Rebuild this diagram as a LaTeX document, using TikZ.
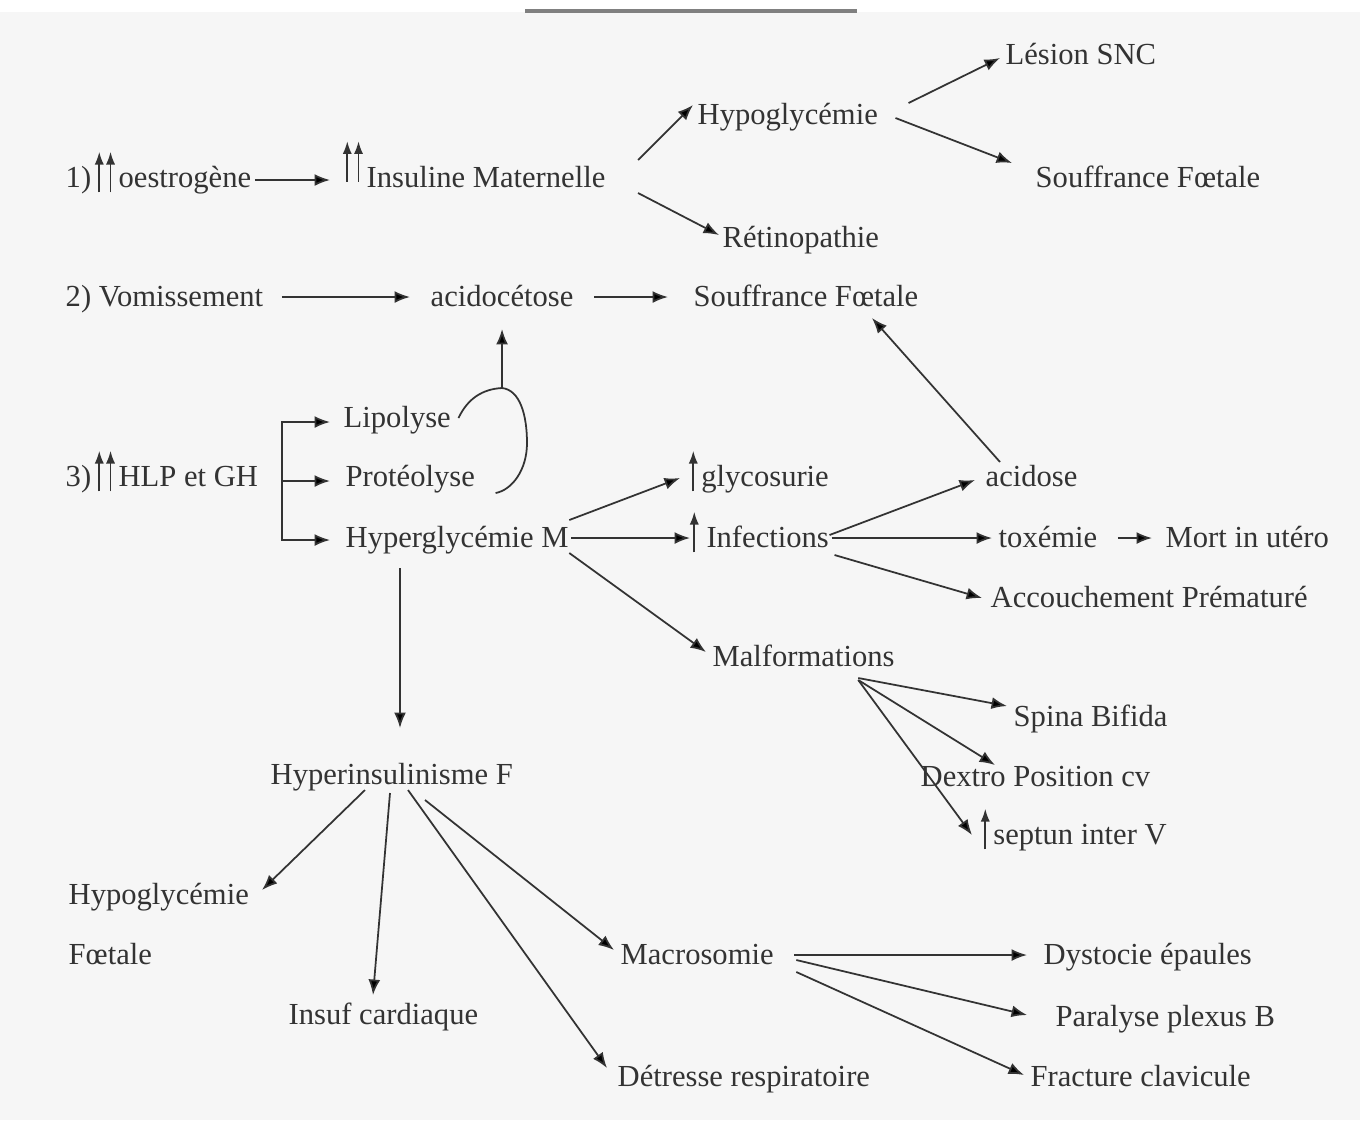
\documentclass[tikz,border=0pt]{standalone}
\usepackage{fontspec}
\setmainfont{Liberation Serif}
\usetikzlibrary{arrows.meta, calc}

\definecolor{ink}{HTML}{333333}
\definecolor{paper}{HTML}{F6F6F6}

% small rising arrows used inside the labels
\newcommand{\upa}{\tikz[baseline=0pt]\draw[ink, line width=0.45pt, -{Latex[length=3.6pt,width=2.6pt]}] (0pt,-1.5pt) -- (0pt,10pt);}
\newcommand{\upupa}{\upa\kern0.6pt\upa}

\begin{document}
\begin{tikzpicture}[x=0.01cm, y=-0.01cm,
    lbl/.style={anchor=base west, inner sep=0pt, text=ink, font=\fontsize{8.7}{11}\selectfont},
    arr/.style={draw=ink, line width=0.5pt, -{Latex[length=4.4pt, width=3.4pt]}},
    ln/.style={draw=ink, line width=0.5pt}]
  \useasboundingbox (0,0) rectangle (1360,1120);
  \fill[white] (0,0) rectangle (1360,1120);
  \fill[paper] (0,12) rectangle (1360,1120);
  \draw[gray, line width=1pt] (525,11) -- (857,11);

  % 1) oestrogenes
  \node[lbl] (oest) at (65,187) {1)\kern1pt\upupa\kern1pt oestrogène};
  \node[lbl] (insm) at (342,187) {\raisebox{3pt}{\upupa}\kern1pt Insuline Maternelle};
  \node[lbl] (hypo) at (697,124) {Hypoglycémie};
  \node[lbl] (snc) at (1005,64) {Lésion SNC};
  \node[lbl] (sfa) at (1035,187) {Souffrance Fœtale};
  \node[lbl] (reti) at (722,247) {Rétinopathie};
  % 2) vomissement
  \node[lbl] (vomi) at (65,306) {2) Vomissement};
  \node[lbl] (acet) at (430,306) {acidocétose};
  \node[lbl] (sfb) at (693,306) {Souffrance Fœtale};
  % 3) HLP et GH
  \node[lbl] (hlp) at (65,486) {3)\kern1pt\upupa\kern1pt HLP et GH};
  \node[lbl] (lipo) at (343,427) {Lipolyse};
  \node[lbl] (prot) at (345,486) {Protéolyse};
  \node[lbl] (hgm) at (345,547) {Hyperglycémie M};
  \node[lbl] (glyc) at (688,486) {\upa\kern1pt glycosurie};
  \node[lbl] (infe) at (689,547) {\upa\ Infections};
  \node[lbl] (malf) at (712,666) {Malformations};
  \node[lbl] (acid) at (985,486) {acidose};
  \node[lbl] (toxe) at (998,547) {toxémie};
  \node[lbl] (mort) at (1165,547) {Mort in utéro};
  \node[lbl] (accp) at (990,607) {Accouchement Prématuré};
  \node[lbl] (spina) at (1013,726) {Spina Bifida};
  \node[lbl] (dext) at (920,786) {Dextro Position cv};
  \node[lbl] (sept) at (980,844) {\upa\kern1pt septun inter V};
  % foetus
  \node[lbl] (hinf) at (270,784) {Hyperinsulinisme F};
  \node[lbl, align=left] (hypf) at (68,964) {Hypoglycémie\\[6pt]Fœtale};
  \node[lbl] (insc) at (288,1024) {Insuf cardiaque};
  \node[lbl] (macr) at (620,964) {Macrosomie};
  \node[lbl] (detr) at (617,1086) {Détresse respiratoire};
  \node[lbl] (dyst) at (1043,964) {Dystocie épaules};
  \node[lbl] (para) at (1055,1026) {Paralyse plexus B};
  \node[lbl] (frac) at (1030,1086) {Fracture clavicule};

  % connectors, row 1
  \draw[arr] ([shift={(3,-7)}]oest.base east) -- ([shift={(-12,-7)}]insm.base west);
  \draw[arr] ([shift={(32,-27)}]insm.base east) -- ([shift={(-4,-19)}]hypo.base west);
  \draw[arr] ([shift={(32,6)}]insm.base east) -- ([shift={(-3,-12)}]reti.base west);
  \draw[arr] ([shift={(30,-21)}]hypo.base east) -- ([shift={(-5,-6)}]snc.base west);
  \draw[arr] ([shift={(17,-6)}]hypo.base east) -- ([shift={(-23,-24)}]sfa.base west);
  % row 2
  \draw[arr] ([shift={(18,-9)}]vomi.base east) -- ([shift={(-20,-9)}]acet.base west);
  \draw[arr] ([shift={(20,-9)}]acet.base east) -- ([shift={(-25,-9)}]sfb.base west);
  % lipolyse / proteolyse loop
  \coordinate (lpjoin) at (acet.south |- 0,388);
  \draw[ln] ([shift={(7,-9)}]lipo.base east) .. controls (468,398) and (483,389) .. (lpjoin)
    .. controls (520,390) and (527,415) .. (527,443)
    .. controls (527,470) and (512,490) .. ([shift={(20,7)}]prot.base east);
  \draw[arr] (lpjoin) -- ([shift={(0,22)}]acet.south);
  % row 3
  \coordinate (fork) at ([shift={(217,-5)}]hlp.base west);
  \draw[arr] (fork) |- ([shift={(-13,-5)}]lipo.base west);
  \draw[arr] (fork) -- ([shift={(-15,-5)}]prot.base west);
  \draw[arr] (fork) |- ([shift={(-15,-7)}]hgm.base west);
  \draw[arr] ([shift={(0,-27)}]hgm.base east) -- ([shift={(-8,-8)}]glyc.base west);
  \draw[arr] ([shift={(2,-9)}]hgm.base east) -- ([shift={(1,-9)}]infe.base west);
  \draw[arr] ([shift={(0,6)}]hgm.base east) -- ([shift={(-6,-14)}]malf.base west);
  \draw[arr] ([shift={(55,21)}]hgm.base west) -- ([shift={(130,-56)}]hinf.base west);
  \draw[arr] ([shift={(0,-12)}]infe.base east) -- ([shift={(-10,-6)}]acid.base west);
  \draw[arr] ([shift={(2,-9)}]infe.base east) -- ([shift={(-6,-9)}]toxe.base west);
  \draw[arr] ([shift={(5,8)}]infe.base east) -- ([shift={(-8,-9)}]accp.base west);
  \draw[arr] ([shift={(20,-9)}]toxe.base east) -- ([shift={(-13,-9)}]mort.base west);
  \draw[arr] ([shift={(15,-24)}]acid.base west) -- ([shift={(-47,12)}]sfb.base east);
  \draw[arr] ([shift={(-37,12)}]malf.base east) -- ([shift={(-6,-20)}]spina.base west);
  \draw[arr] ([shift={(-37,14)}]malf.base east) -- ([shift={(75,-21)}]dext.base west);
  \draw[arr] ([shift={(-37,14)}]malf.base east) -- ([shift={(-8,-9)}]sept.base west);
  % hyperinsulinisme
  \draw[arr] ([shift={(95,6)}]hinf.base west) -- ([shift={(194,-74)}]hypf.base west);
  \draw[arr] ([shift={(120,9)}]hinf.base west) -- ([shift={(85,-29)}]insc.base west);
  \draw[arr] ([shift={(138,6)}]hinf.base west) -- ([shift={(-10,-18)}]detr.base west);
  \draw[arr] ([shift={(155,16)}]hinf.base west) -- ([shift={(-6,-14)}]macr.base west);
  \draw[arr] ([shift={(20,-9)}]macr.base east) -- ([shift={(-16,-9)}]dyst.base west);
  \draw[arr] ([shift={(22,-4)}]macr.base east) -- ([shift={(-28,-11)}]para.base west);
  \draw[arr] ([shift={(22,8)}]macr.base east) -- ([shift={(-6,-11)}]frac.base west);
\end{tikzpicture}
\end{document}
